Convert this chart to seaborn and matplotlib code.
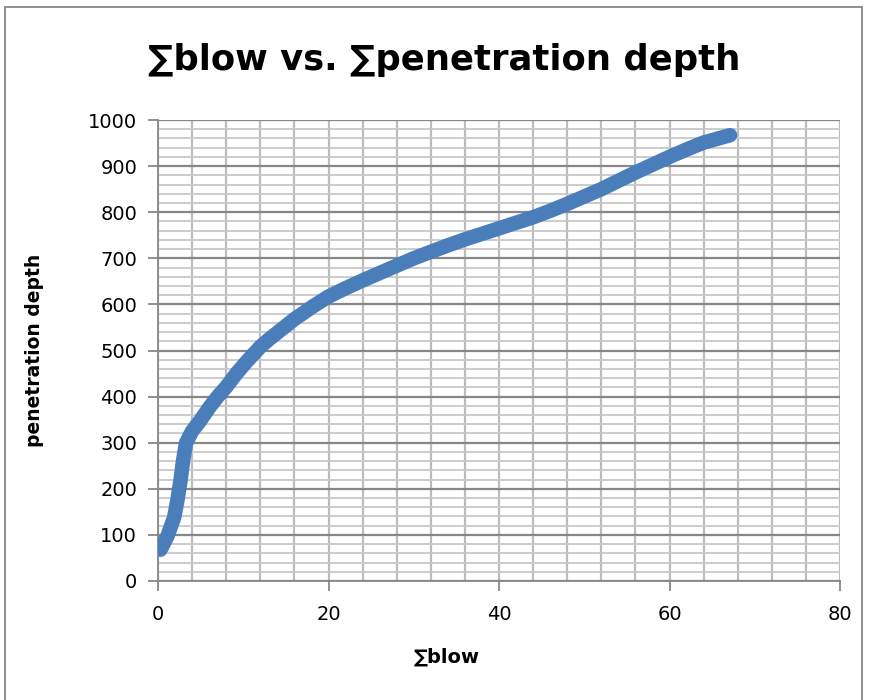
import matplotlib
matplotlib.use("Agg")
import matplotlib.pyplot as plt
import seaborn as sns
import pandas as pd
from matplotlib.ticker import MultipleLocator
from matplotlib.patches import Rectangle

# Data
blows = [0.3, 1.1, 1.9, 2.3, 2.65, 2.95, 3.3, 4.0, 5.0, 6.0, 7.0, 8.0, 9.2, 10.4, 11.6, 12.0,
         13.0, 14.7, 16.0, 18.2, 20.0, 22.0, 24.0, 26.0, 28.0, 30.0, 32.0, 34.0, 36.0, 38.0,
         40.0, 42.0, 44.0, 46.0, 48.0, 50.0, 52.0, 54.0, 56.0, 58.0, 60.0, 62.0, 64.0, 67.1]
depth = [68, 97, 138, 178, 219, 262, 300, 325, 349, 376, 400, 421, 450, 476, 500, 508,
         524, 549, 568, 596, 617, 635, 652, 668, 684, 700, 714, 728, 741, 753,
         765, 777, 789, 803, 818, 834, 850, 868, 886, 903, 920, 936, 951, 967]

x_ticks = [0, 20, 40, 60, 80]
y_ticks = [0, 100, 200, 300, 400, 500, 600, 700, 800, 900, 1000]

sns.set_theme(style="white")
plt.rcParams['font.family'] = ['DejaVu Sans']
plt.rcParams['text.color'] = 'black'
plt.rcParams['axes.labelcolor'] = 'black'

df = pd.DataFrame({"blows": blows, "depth": depth})

fig = plt.figure(figsize=(8.71, 7.0), dpi=100)
ax = fig.add_axes([158/871, 1-581/700, (840-158)/871, (581-120)/700])

ax.set_xlim(x_ticks[0], x_ticks[-1])
ax.set_ylim(y_ticks[0], y_ticks[-1])
ax.set_xticks(x_ticks)
ax.set_yticks(y_ticks)
ax.xaxis.set_minor_locator(MultipleLocator(4))
ax.yaxis.set_minor_locator(MultipleLocator(20))

ax.grid(which='minor', axis='y', color='#c8c8c8', linewidth=1.3, zorder=0)
ax.grid(which='minor', axis='x', color='#bcbcbc', linewidth=1.6, zorder=0)
ax.grid(which='major', axis='x', color='#bcbcbc', linewidth=1.6, zorder=0)
ax.grid(which='major', axis='y', color='#878787', linewidth=1.6, zorder=0.5)
ax.set_axisbelow(True)

sns.lineplot(data=df, x="blows", y="depth", ax=ax, color='#4a7ebb', linewidth=10.5,
             solid_capstyle='round', solid_joinstyle='round', sort=False, zorder=3)

for s in ['top', 'right']:
    ax.spines[s].set_visible(False)
for s in ['left', 'bottom']:
    ax.spines[s].set_color('#878787')
    ax.spines[s].set_linewidth(1.3)

ax.tick_params(axis='both', which='major', direction='out', length=7, width=1.3,
               color='#878787', labelsize=14, left=True, bottom=True, labelcolor='black')
ax.tick_params(axis='y', which='major', pad=8)
ax.tick_params(axis='x', which='major', pad=10)
ax.tick_params(axis='both', which='minor', length=0)

ax.set_xlabel("∑blow", fontsize=14, fontweight='bold', color='black')
ax.set_ylabel("penetration depth", fontsize=13.5, fontweight='bold', color='black')
ax.xaxis.set_label_coords((447-158)/682, (581-657)/461)
ax.yaxis.set_label_coords((35-158)/682, 0.5)
ax.xaxis.label.set_va('center')
ax.yaxis.label.set_va('center')

fig.text(444/871, 1-60/700, "∑blow vs. ∑penetration depth", ha='center', va='center',
         fontsize=25.5, fontweight='bold', color='black')

fig.patches.append(Rectangle((5/871, -0.01), (862-5)/871, (700-7)/700 + 0.01,
                             transform=fig.transFigure, fill=False,
                             edgecolor='#878787', linewidth=1.3))

fig.savefig("out.png", dpi=100)
